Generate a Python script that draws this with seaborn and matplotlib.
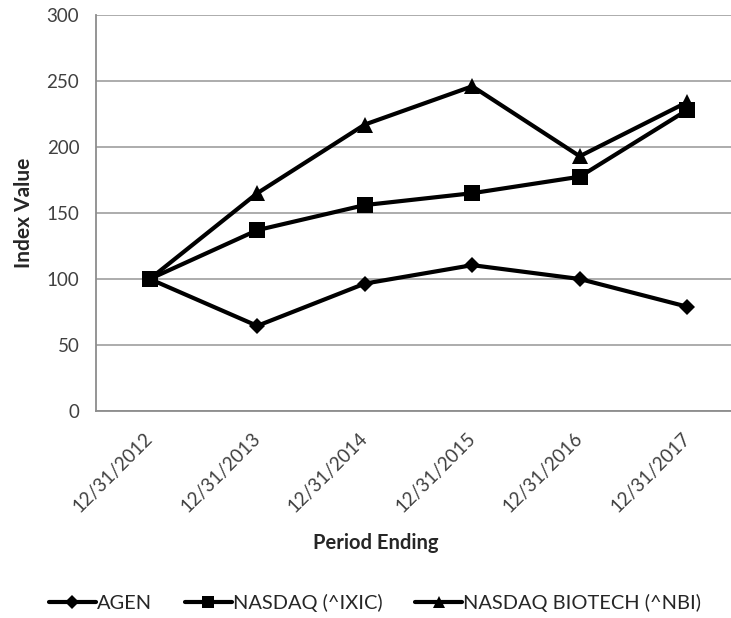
import pandas as pd
import seaborn as sns
import matplotlib.pyplot as plt

sns.set_style("white")
plt.rcParams['font.family'] = ['Lato', 'DejaVu Sans']

periods = ["12/31/2012", "12/31/2013", "12/31/2014",
           "12/31/2015", "12/31/2016", "12/31/2017"]
agen = [100, 64.5, 96.5, 110.5, 100, 79]
nasdaq = [100, 137, 156, 165, 177.5, 228]
biotech = [100, 165, 217, 246, 193, 234]
series = ["AGEN", "NASDAQ (^IXIC)", "NASDAQ BIOTECH (^NBI)"]

rows = []
for name, vals in zip(series, [agen, nasdaq, biotech]):
    for i, v in enumerate(vals):
        rows.append({"pos": i, "period": periods[i], "series": name, "value": v})
df = pd.DataFrame(rows)

W, H = 731, 618
fig = plt.figure(figsize=(W / 100, H / 100), dpi=100)
ax = fig.add_axes([96 / W, 1 - 411 / H, 1 - 96 / W, (411 - 15) / H])

ax = sns.lineplot(data=df, x="pos", y="value", hue="series", style="series",
                  palette=["black"] * 3,
                  markers={"AGEN": "D", "NASDAQ (^IXIC)": "s",
                           "NASDAQ BIOTECH (^NBI)": "^"},
                  dashes=False, linewidth=3, markersize=11, markeredgewidth=0,
                  sort=False, ax=ax, legend=True)
# diamond a bit smaller
for ln in ax.lines:
    if ln.get_marker() == "D":
        ln.set_markersize(8)

ax.set_ylim(0, 300)
ax.set_xlim(-0.5, 5.407)
ax.set_yticks(range(0, 301, 50))
ax.set_xticks(range(len(periods)))
ax.set_xticklabels(periods, rotation=45, ha="right", va="center",
                   rotation_mode="anchor", fontsize=13.5, color="#404040")
ax.tick_params(axis="y", labelsize=13.5, labelcolor="#404040", length=6, width=1.3,
               color="#8c8c8c", pad=6)
ax.tick_params(axis="x", length=0, pad=18)
ax.yaxis.grid(True, color="#a6a6a6", linewidth=1.3)
ax.set_axisbelow(True)
for s in ["top", "right"]:
    ax.spines[s].set_visible(False)
for s in ["left", "bottom"]:
    ax.spines[s].set_color("#8c8c8c")
    ax.spines[s].set_linewidth(1.3)

ax.set_xlabel("Period Ending", fontsize=14.5, fontweight="bold", color="#262626")
ax.set_ylabel("Index Value", fontsize=15, fontweight="bold", color="#262626")
ax.xaxis.set_label_coords(376 / W, 1 - 543 / H, transform=fig.transFigure)
ax.xaxis.label.set_va("center")
ax.yaxis.set_label_coords(24 / W, 1 - 213 / H, transform=fig.transFigure)
ax.yaxis.label.set_va("center")

handles, labels = ax.get_legend_handles_labels()
for h in handles:
    h.set_markersize(h.get_markersize() * 0.85)
ax.legend(handles, labels, loc="center", bbox_to_anchor=(375 / W, 1 - 603 / H),
          bbox_transform=fig.transFigure, ncol=3, frameon=False, fontsize=14.4,
          handlelength=2.35, handletextpad=0.05, columnspacing=1.65,
          labelcolor="#262626", borderpad=0)

fig.savefig("out.png", dpi=100)
